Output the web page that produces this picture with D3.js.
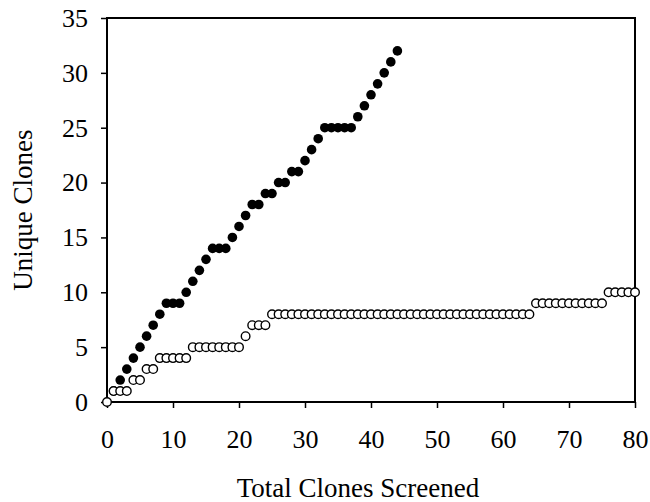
<!DOCTYPE html>
<html>
<head>
<meta charset="utf-8">
<script src="https://cdn.jsdelivr.net/npm/d3@7"></script>
<style>
  body { margin: 0; background: #fff; }
  text { font-family: "Liberation Serif", "Times New Roman", serif; fill: #000; }
</style>
</head>
<body>
<div id="chart"></div>
<script>
// chart data
var blackX = [1, 2, 3, 4, 5, 6, 7, 8, 9, 10, 11, 12, 13, 14, 15, 16, 17, 18, 19, 20, 21, 22,
    23, 24, 25, 26, 27, 28, 29, 30, 31, 32, 33, 34, 35, 36, 37, 38, 39, 40, 41, 42, 43, 44];
var blackY = [1, 2, 3, 4, 5, 6, 7, 8, 9, 9, 9, 10, 11, 12, 13, 14, 14, 14, 15, 16, 17, 18,
    18, 19, 19, 20, 20, 21, 21, 22, 23, 24, 25, 25, 25, 25, 25, 26, 27, 28, 29, 30, 31, 32];

var whiteX = [0, 1, 2, 3, 4, 5, 6, 7, 8, 9, 10, 11, 12, 13, 14, 15, 16, 17, 18, 19, 20,
    21, 22, 23, 24, 25, 26, 27, 28, 29, 30, 31, 32, 33, 34, 35, 36, 37, 38, 39, 40,
    41, 42, 43, 44, 45, 46, 47, 48, 49, 50, 51, 52, 53, 54, 55, 56, 57, 58, 59, 60,
    61, 62, 63, 64, 65, 66, 67, 68, 69, 70, 71, 72, 73, 74, 75, 76, 77, 78, 79, 80];
var whiteY = [0, 1, 1, 1, 2, 2, 3, 3, 4, 4, 4, 4, 4, 5, 5, 5, 5, 5, 5, 5, 5,
    6, 7, 7, 7, 8, 8, 8, 8, 8, 8, 8, 8, 8, 8, 8, 8, 8, 8, 8, 8,
    8, 8, 8, 8, 8, 8, 8, 8, 8, 8, 8, 8, 8, 8, 8, 8, 8, 8, 8, 8,
    8, 8, 8, 8, 9, 9, 9, 9, 9, 9, 9, 9, 9, 9, 9, 10, 10, 10, 10, 10];

var xTicks = [0, 10, 20, 30, 40, 50, 60, 70, 80];
var yTicks = [0, 5, 10, 15, 20, 25, 30, 35];

// width & height
var svgWidth = 650;
var svgHeight = 502;

var margin = { top: 18, right: 15, bottom: 100, left: 107 };
var width = svgWidth - margin.left - margin.right;
var height = svgHeight - margin.top - margin.bottom;

var svg = d3.select("#chart")
    .append("svg")
    .attr("width", svgWidth)
    .attr("height", svgHeight);

var g = svg.append("g")
    .attr("transform", `translate(${margin.left}, ${margin.top})`);

var x = d3.scaleLinear().domain([0, 80]).range([0, width]);
var y = d3.scaleLinear().domain([0, 35]).range([height, 0]);

// axes
var xAxis = g.append("g")
    .attr("transform", `translate(0, ${height})`)
    .call(d3.axisBottom(x).tickValues(xTicks).tickSize(6).tickSizeOuter(0).tickPadding(22));

var yAxis = g.append("g")
    .call(d3.axisLeft(y).tickValues(yTicks).tickSize(6).tickSizeOuter(0).tickPadding(13));

[xAxis, yAxis].forEach(function(a) {
    a.select(".domain").remove();
    a.selectAll("line").attr("stroke", "#000").attr("stroke-width", 1.5);
    a.selectAll("text")
        .style("font-family", '"Liberation Serif", "Times New Roman", serif')
        .style("font-size", "26px")
        .attr("fill", "#000");
});

// frame
g.append("rect")
    .attr("x", 0)
    .attr("y", 0)
    .attr("width", width)
    .attr("height", height)
    .attr("fill", "none")
    .attr("stroke", "#000")
    .attr("stroke-width", 2);

// filled series
var blackData = blackX.map((d, i) => ({ x: d, y: blackY[i] }));
g.selectAll(".black")
    .data(blackData)
    .enter()
    .append("circle")
    .attr("class", "black")
    .attr("cx", d => x(d.x))
    .attr("cy", d => y(d.y))
    .attr("r", 4.8)
    .attr("fill", "#000");

// open series
var whiteData = whiteX.map((d, i) => ({ x: d, y: whiteY[i] }));
g.selectAll(".white")
    .data(whiteData)
    .enter()
    .append("circle")
    .attr("class", "white")
    .attr("cx", d => x(d.x))
    .attr("cy", d => y(d.y))
    .attr("r", 4.3)
    .attr("fill", "#fff")
    .attr("stroke", "#000")
    .attr("stroke-width", 1.4);

// axis titles
svg.append("text")
    .attr("x", 358)
    .attr("y", 497)
    .attr("text-anchor", "middle")
    .style("font-size", "27px")
    .text("Total Clones Screened");

svg.append("text")
    .attr("transform", `translate(32, ${margin.top + height / 2}) rotate(-90)`)
    .attr("text-anchor", "middle")
    .style("font-size", "27px")
    .text("Unique Clones");
</script>
</body>
</html>
